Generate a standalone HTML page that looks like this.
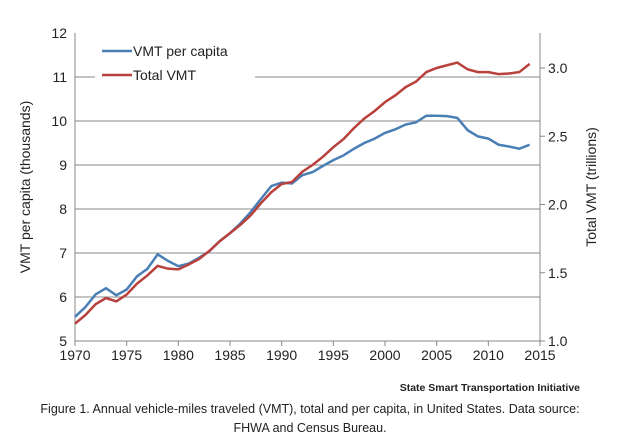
<!DOCTYPE html>
<html><head><meta charset="utf-8"><style>
body{margin:0;background:#fff;font-family:"Liberation Sans",sans-serif;}
svg text{font-family:"Liberation Sans",sans-serif;}
</style></head><body>
<svg id="chart" width="620" height="441" viewBox="0 0 620 441">
<g id="grid"></g><g id="axes"></g><g id="series"></g>
<g>
<rect x="95" y="40" width="160" height="46" fill="#fff"/>
<line x1="102" y1="51" x2="132" y2="51" stroke="#4a7fb5" stroke-width="2.5"/>
<text x="133" y="56" font-size="14" fill="#222">VMT per capita</text>
<line x1="102" y1="75" x2="132" y2="75" stroke="#b9413d" stroke-width="2.5"/>
<text x="133" y="80" font-size="14" fill="#222">Total VMT</text>
</g>
<text transform="translate(30,187) rotate(-90)" text-anchor="middle" font-size="14" fill="#222">VMT per capita (thousands)</text>
<text transform="translate(596,187) rotate(-90)" text-anchor="middle" font-size="14" fill="#222">Total VMT (trillions)</text>
<text x="580" y="391" text-anchor="end" font-size="10.5" font-weight="bold" fill="#222">State Smart Transportation Initiative</text>
<text x="310" y="413" text-anchor="middle" font-size="12.5" fill="#222">Figure 1. Annual vehicle-miles traveled (VMT), total and per capita, in United States. Data source:</text>
<text x="310" y="432" text-anchor="middle" font-size="12.5" fill="#222">FHWA and Census Bureau.</text>
</svg>
<script>
const years=[];for(let y=1970;y<=2014;y++)years.push(y);
const perCapita=[5.55,5.77,6.06,6.2,6.04,6.17,6.47,6.64,6.97,6.82,6.7,6.76,6.89,7.04,7.27,7.45,7.67,7.93,8.23,8.52,8.6,8.58,8.77,8.84,8.98,9.11,9.22,9.37,9.5,9.6,9.73,9.81,9.92,9.97,10.12,10.12,10.11,10.07,9.79,9.65,9.6,9.46,9.42,9.37,9.46];
const totalVMT=[1.127,1.19,1.27,1.315,1.29,1.34,1.42,1.48,1.55,1.53,1.525,1.56,1.6,1.66,1.73,1.79,1.85,1.92,2.01,2.09,2.15,2.165,2.24,2.29,2.35,2.42,2.48,2.56,2.63,2.685,2.75,2.8,2.86,2.9,2.97,3.0,3.02,3.04,2.99,2.97,2.97,2.955,2.96,2.97,3.03];
const xTicks=[1970,1975,1980,1985,1990,1995,2000,2005,2010,2015];
const leftTicks=[5,6,7,8,9,10,11,12];
const rightTicks=[1.0,1.5,2.0,2.5,3.0];
const X0=75,X1=540,Y0=341,Y1=33;
const x=v=>X0+(v-1970)/45*(X1-X0);
const yL=v=>Y0-(v-5)/7*(Y0-Y1);
const yR=v=>Y0-(v-1)*136.5;
const NS="http://www.w3.org/2000/svg";
function mk(t,a,p){const e=document.createElementNS(NS,t);for(const k in a)e.setAttribute(k,a[k]);p.appendChild(e);return e;}
const grid=document.getElementById('grid'),axes=document.getElementById('axes'),ser=document.getElementById('series');
leftTicks.forEach(v=>{
 if(v>5&&v<12){const l=mk('line',{x1:X0,x2:X1,y1:yL(v),y2:yL(v),stroke:'#8a8a8a','stroke-width':1},grid);
 
 }
 const t=mk('text',{x:X0-8,y:yL(v)+5,'text-anchor':'end','font-size':14,fill:'#222'},axes);t.textContent=v;
 
 
});
rightTicks.forEach(v=>{
 mk('line',{x1:X1,x2:X1+5,y1:yR(v),y2:yR(v),stroke:'#888'},axes);
 const t=mk('text',{x:X1+8,y:yR(v)+5,'font-size':14,fill:'#222'},axes);t.textContent=v.toFixed(1);
 
 
});
xTicks.forEach(v=>{
 mk('line',{x1:x(v),x2:x(v),y1:Y0,y2:Y0+5,stroke:'#888'},axes);
 const t=mk('text',{x:x(v),y:Y0+19,'text-anchor':'middle','font-size':14,fill:'#222'},axes);t.textContent=v;
 
 
});
mk('line',{x1:X0,x2:X0,y1:Y1,y2:Y0,stroke:'#888'},axes);
mk('line',{x1:X1,x2:X1,y1:Y1,y2:Y0,stroke:'#888'},axes);
mk('line',{x1:X0,x2:X1,y1:Y0,y2:Y0,stroke:'#888'},axes);
const p1=mk('polyline',{points:years.map((yr,i)=>x(yr)+','+yL(perCapita[i])).join(' '),fill:'none',stroke:'#4a7fb5','stroke-width':2.5},ser);


const p2=mk('polyline',{points:years.map((yr,i)=>x(yr)+','+yR(totalVMT[i])).join(' '),fill:'none',stroke:'#b9413d','stroke-width':2.5},ser);


</script>
</body></html>
